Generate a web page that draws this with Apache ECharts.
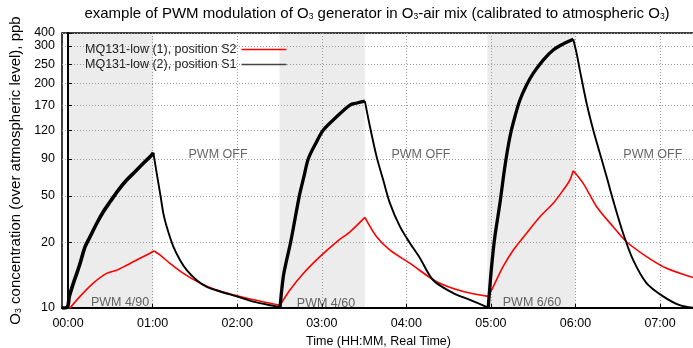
<!DOCTYPE html>
<html><head><meta charset="utf-8">
<script src="https://cdn.jsdelivr.net/npm/echarts@6/dist/echarts.min.js"></script>
<style>html,body{margin:0;padding:0;background:#fff}#c{width:693px;height:348px}</style>
</head><body><div id="c"></div>
<script>
// ---- axis definitions ----
const yTickPpb   = [10, 20, 50, 90, 120, 170, 200, 250, 300, 400];
const yTickLevel = [0, 23.9, 40.8, 54.2, 64.7, 73.8, 81.7, 88.7, 95.3, 100]; // sensor level of each calibrated tick
const xTickMinutes = [0, 60, 120, 180, 240, 300, 360, 420];
const pwmWindows = [[-0.5, 60.2], [150, 210.5], [297.5, 360]];

const nameS2 = 'MQ131-low (1), position S2';
const nameS1 = 'MQ131-low (2), position S1';

// ---- data: [minutes, ppb] ----
const s1 = [[-4.3,10],[-0.5,10.1],[0.9,11.3],[3.8,13.0],[6.2,14.4],[8.5,16.0],[12.1,19.1],[15.6,22.3],[20.4,29.1],[25,36.5],[29.8,44.4],[35.7,54.8],[41.6,64.3],[47.5,73.4],[53.4,84.0],[59.4,93.7],[60.5,95.8],
[62.9,71.6],[65.6,50],[67.6,35.4],[70,27.2],[74.7,19.1],[79.4,16.6],[84.2,14.9],[91.3,13.4],[98.4,12.5],[107.8,11.9],[119.6,11.3],[131.4,10.7],[143.3,10.3],[150.4,10.1],
[152.7,13.9],[155.1,16.6],[157.9,20],[161,31.6],[164.1,50],[167.2,67],[170.4,90],[175.7,105],[181.1,120],[190,143],[200,170],[205,172.6],[210.6,175],
[214.2,125.6],[218.9,92.1],[223.6,64.3],[228.4,43.1],[235.5,27.2],[242.6,19.8],[249.6,16.95],[259.1,13.4],[273.3,11.7],[285.1,10.9],[298.1,10.05],
[300.5,15.5],[302.8,22.3],[306.4,43.1],[309.9,79.6],[313.5,112.3],[317,144.4],[320.6,176.5],[325.3,197.5],[330,224.5],[337.1,260.3],[344.2,288.1],[351.3,313.6],[358.4,348],
[360.8,278.6],[363.1,233.2],[367.9,172.2],[372.6,120],[377.3,95.2],[382.1,67.8],[386.7,45.9],[393.8,23.9],[400.9,16.6],[410.4,13.0],[422.2,11.3],[434,10.3],[444.8,10]];
const s1Breaks = [60.5, 150.4, 210.6, 298.1, 358.4];

const s2 = [[-4.3,10],[1.4,10],[8.5,11.3],[17.9,13.0],[27.4,14.4],[34.5,14.9],[41.6,15.7],[48.7,16.6],[55.8,17.5],[61,18.25],
[65.2,17.5],[72.3,16.0],[81.8,14.4],[93.6,13.0],[105.5,12.1],[117.2,11.5],[129.1,11.0],[140.9,10.6],[150.4,10.3],
[157.4,12.1],[166.9,14.4],[178.7,17.2],[190.6,20.2],[200,24.6],[210.6,32.7],
[218.9,22.3],[228.4,18.4],[242.6,16.0],[261.5,13.2],[280.4,11.9],[298.1,11.3],
[301.6,12.5],[308.7,15.5],[315.8,18.4],[325.3,23.9],[334.8,33.1],[344.2,43.1],[351.3,54.8],[356,64.3],[358.4,74.6],
[365.5,61.0],[375,40.3],[386.7,27.2],[396.2,20.2],[410.4,17.2],[424.6,15.2],[444.8,13.7]];
const s2Breaks = [1.4, 61, 150.4, 210.6, 298.1, 358.4];

const annoText = ['PWM OFF', 'PWM OFF', 'PWM OFF', 'PWM 4/90', 'PWM 4/60', 'PWM 6/60'];
const annoTime = [106.4, 250.4, 414.9, 36.9, 183, 329.1];
const annoPpb  = [93.6, 93.6, 93.6, 10.55, 10.5, 10.6];

// ---- helpers ----
function ppbToLevel(p) {
  const P = yTickPpb, L = yTickLevel;
  let i = 0;
  while (i < P.length - 2 && p > P[i + 1]) i++;
  const f = Math.log(p / P[i]) / Math.log(P[i + 1] / P[i]);
  return L[i] + f * (L[i + 1] - L[i]);
}
const toXY = arr => arr.map(d => [d[0], ppbToLevel(d[1])]);
function splitAt(arr, breaks) {
  const edges = [-Infinity].concat(breaks, [Infinity]);
  const out = [];
  for (let k = 0; k < edges.length - 1; k++) {
    out.push(arr.filter(d => d[0] >= edges[k] && d[0] <= edges[k + 1]));
  }
  return out;
}
const pad = n => (n < 10 ? '0' : '') + n;
const FONT = '"Liberation Sans", Arial, Helvetica, sans-serif';

const chart = echarts.init(document.getElementById('c'), null, {renderer: 'canvas', width: 693, height: 348});

const series = [];
series.push({
  type: 'line', data: [], z: -1, silent: true,
  markArea: {silent: true, z: -1, itemStyle: {color: '#ebeceb'},
    data: pwmWindows.map(w => [{xAxis: w[0]}, {xAxis: w[1]}])}
});
splitAt(s2, s2Breaks).forEach(seg => {
  series.push({name: nameS2, type: 'line', data: toXY(seg), symbol: 'none', z: 3, smooth: 0.3,
    lineStyle: {color: '#ff0000', width: 1.6}, itemStyle: {color: '#ff0000'}});
});
splitAt(s1, s1Breaks).forEach((seg, k) => {
  // k even: PWM on (sawtooth band drawn thicker), k odd: decay
  series.push({name: nameS1, type: 'line', data: toXY(seg), symbol: 'none', z: 4, smooth: 0.3,
    lineStyle: {color: '#000', width: k % 2 === 0 ? (k === 0 ? 3.6 : 3.3) : 1.9}, itemStyle: {color: '#000'}});
});
series.push({
  type: 'scatter', symbolSize: 0, z: 6, silent: true,
  data: annoText.map((t, i) => ({name: t, value: [annoTime[i], ppbToLevel(annoPpb[i])]})),
  label: {show: true, position: 'inside', formatter: '{b}', color: '#404040', fontSize: 12.5, fontFamily: FONT}
});

chart.setOption({
  animation: false,
  backgroundColor: '#fff',
  title: {
    text: 'example of PWM modulation of O{s|3} generator in O{s|3}-air mix (calibrated to atmospheric O{s|3})',
    left: 372, top: 1, textAlign: 'center',
    textStyle: {fontSize: 15, fontWeight: 'normal', color: '#000', fontFamily: FONT,
      rich: {s: {fontSize: 8.5, verticalAlign: 'bottom', fontFamily: FONT, color: '#000'}}}
  },
  legend: {
    orient: 'vertical', left: 85, top: 43, align: 'right', padding: 0,
    itemWidth: 45, itemHeight: 1.5, itemGap: 2, icon: 'rect',
    data: [{name: nameS2, itemStyle: {color: '#ff0000'}}, {name: nameS1, itemStyle: {color: '#444'}}],
    textStyle: {fontSize: 12.5, color: '#222', fontFamily: FONT}
  },
  grid: {left: 62, right: -2, top: 33, bottom: 40, outerBoundsMode: 'none', containLabel: false,
    show: true, borderColor: '#000', borderWidth: 1.5, backgroundColor: 'transparent'},
  xAxis: {
    type: 'value', min: -4.3, max: 444.8,
    name: 'Time (HH:MM, Real Time)', nameLocation: 'middle', nameGap: 27,
    nameTextStyle: {fontSize: 12.5, color: '#000', fontFamily: FONT},
    axisLine: {show: true, lineStyle: {color: '#000', width: 2}},
    axisTick: {show: true, inside: true, length: 4, customValues: xTickMinutes, lineStyle: {color: '#000'}},
    axisLabel: {customValues: xTickMinutes, margin: 9, fontSize: 12.5, color: '#000', fontFamily: FONT,
      formatter: v => pad(Math.floor(v / 60)) + ':' + pad(Math.round(v % 60))},
    splitLine: {show: true, lineStyle: {color: '#999', width: 1, type: [1, 2]}}
  },
  yAxis: {
    type: 'value', min: 0, max: 100,
    name: 'O{s|3} concentration (over atmospheric level), ppb', nameLocation: 'middle', nameGap: 39, nameRotate: 90,
    nameTextStyle: {fontSize: 15, color: '#000', fontFamily: FONT,
      rich: {s: {fontSize: 8.8, verticalAlign: 'bottom', fontFamily: FONT, color: '#000'}}},
    axisLine: {show: true, lineStyle: {color: '#000', width: 2}},
    axisTick: {show: true, inside: true, length: 4, customValues: yTickLevel, lineStyle: {color: '#000'}},
    axisLabel: {customValues: yTickLevel, showMaxLabel: true, showMinLabel: true, hideOverlap: false, margin: 7,
      padding: [3, 0, 0, 0], fontSize: 12.5, color: '#000', fontFamily: FONT,
      formatter: v => { let b = 0; yTickLevel.forEach((l, i) => { if (Math.abs(l - v) < Math.abs(yTickLevel[b] - v)) b = i; }); return String(yTickPpb[b]); }},
    splitLine: {show: true, lineStyle: {color: '#999', width: 1, type: [1, 2]}}
  },
  series: series
});
</script></body></html>
